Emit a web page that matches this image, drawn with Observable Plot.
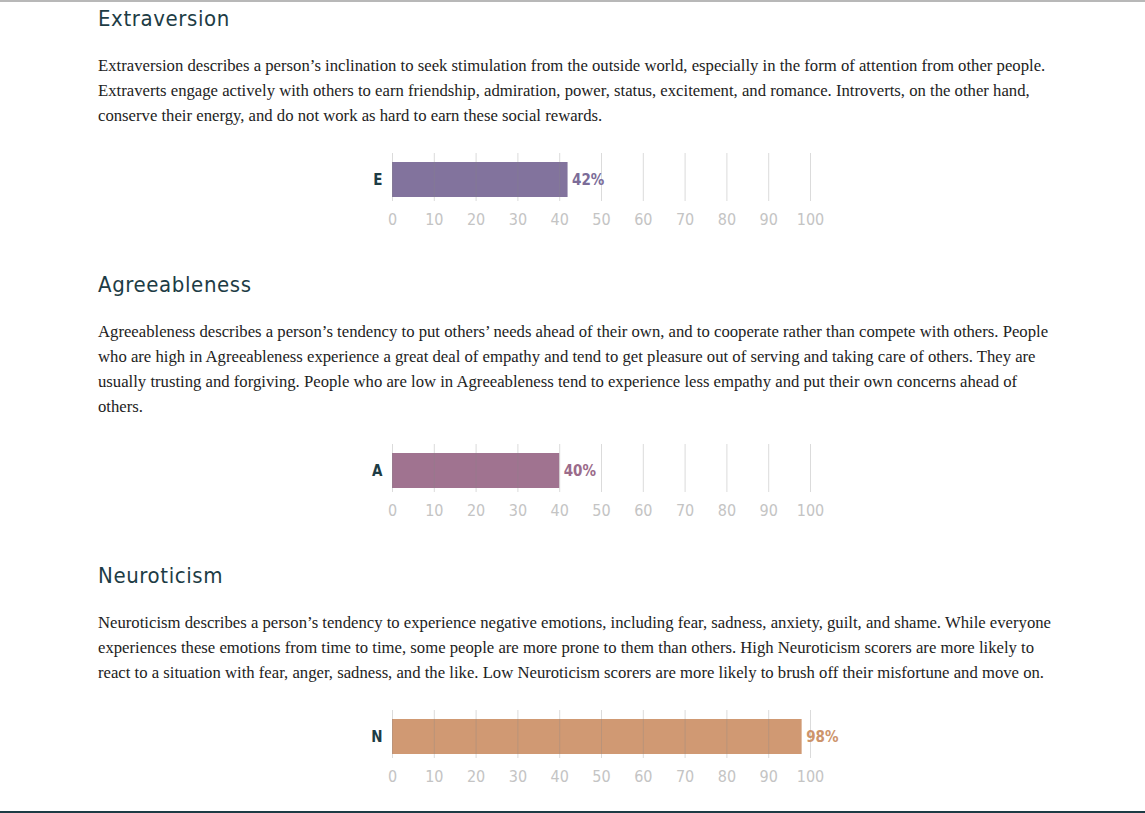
<!DOCTYPE html>
<html>
<head>
<meta charset="utf-8">
<script src="https://cdn.jsdelivr.net/npm/d3@7"></script>
<script src="https://cdn.jsdelivr.net/npm/@observablehq/plot@0.6"></script>
<style>
  html, body { margin: 0; padding: 0; background: #fff; }
  body { width: 1145px; height: 813px; overflow: hidden; position: relative;
         border-top: 2px solid #b8b8b8; box-sizing: border-box; }
  .wrap { padding-left: 98px; width: 955px; padding-top: 2px; }
  h2 { font-family: "DejaVu Sans", sans-serif; font-stretch: condensed;
       font-weight: 400; font-size: 22px; letter-spacing: 0.6px; color: #1d3c45;
       line-height: 30px; margin: 0; }
  p { font-family: "Liberation Serif", "DejaVu Serif", serif; font-size: 16.7px;
      line-height: 25px; color: #222; margin: 19px 0 23px 0; }
  .chart { margin-left: 242px; height: 82px; }
  .chart svg text { font-stretch: condensed; }
  .sec + .sec { margin-top: 37px; }
  .bottom { position: absolute; left: 0; right: 0; bottom: 0; height: 2px; background: #1d3c45; }
</style>
</head>
<body>
<div class="wrap" id="wrap"></div>
<div class="bottom"></div>
<script>
const traits = ["Extraversion", "Agreeableness", "Neuroticism"];
const codes = ["E", "A", "N"];
const scores = [42, 40, 98];
const colors = ["#7b6c98", "#9b6b8a", "#cd946b"];
const texts = [
  "Extraversion describes a person’s inclination to seek stimulation from the outside world, especially in the form of attention from other people. Extraverts engage actively with others to earn friendship, admiration, power, status, excitement, and romance. Introverts, on the other hand, conserve their energy, and do not work as hard to earn these social rewards.",
  "Agreeableness describes a person’s tendency to put others’ needs ahead of their own, and to cooperate rather than compete with others. People who are high in Agreeableness experience a great deal of empathy and tend to get pleasure out of serving and taking care of others. They are usually trusting and forgiving. People who are low in Agreeableness tend to experience less empathy and put their own concerns ahead of others.",
  "Neuroticism describes a person’s tendency to experience negative emotions, including fear, sadness, anxiety, guilt, and shame. While everyone experiences these emotions from time to time, some people are more prone to them than others. High Neuroticism scorers are more likely to react to a situation with fear, anger, sadness, and the like. Low Neuroticism scorers are more likely to brush off their misfortune and move on."
];
const ticks = [0, 10, 20, 30, 40, 50, 60, 70, 80, 90, 100];
const narrow = "'DejaVu Sans', sans-serif";

const wrap = document.getElementById("wrap");
traits.forEach(function (name, i) {
  const sec = document.createElement("div");
  sec.className = "sec";
  const h = document.createElement("h2");
  h.textContent = name;
  const p = document.createElement("p");
  p.textContent = texts[i];
  const c = document.createElement("div");
  c.className = "chart";
  sec.append(h, p, c);
  wrap.append(sec);

  const row = [{ code: codes[i], value: scores[i] }];
  c.append(Plot.plot({
    width: 500,
    height: 82,
    marginLeft: 52,
    marginRight: 30,
    marginTop: 2,
    marginBottom: 32,
    style: { fontFamily: narrow, fontSize: 16, overflow: "visible" },
    x: { domain: [0, 100], ticks: ticks, tickSize: 0, tickPadding: 10, label: null },
    y: { domain: [codes[i]], padding: 0, label: null, tickSize: 0, tickPadding: 10 },
    marks: [
      Plot.barX(row, { x: "value", y: "code", fill: colors[i], fillOpacity: 0.95, insetTop: 9, insetBottom: 4 }),
      Plot.ruleX(ticks, { stroke: "#888", strokeOpacity: 0.3 }),
      Plot.text(row, { x: "value", y: "code", text: function (d) { return d.value + "%"; },
        dx: 4, dy: 3, textAnchor: "start", fill: colors[i], fontSize: 15, fontWeight: 700 }),
      Plot.axisX({ ticks: ticks, tickSize: 0, tickPadding: 12, color: "#c4c4c4", fontSize: 16 }),
      Plot.axisY({ tickSize: 0, tickPadding: 10, color: "#1d3c45", fontWeight: 700, fontSize: 15, dy: 3 })
    ]
  }));
});
</script>
</body>
</html>
